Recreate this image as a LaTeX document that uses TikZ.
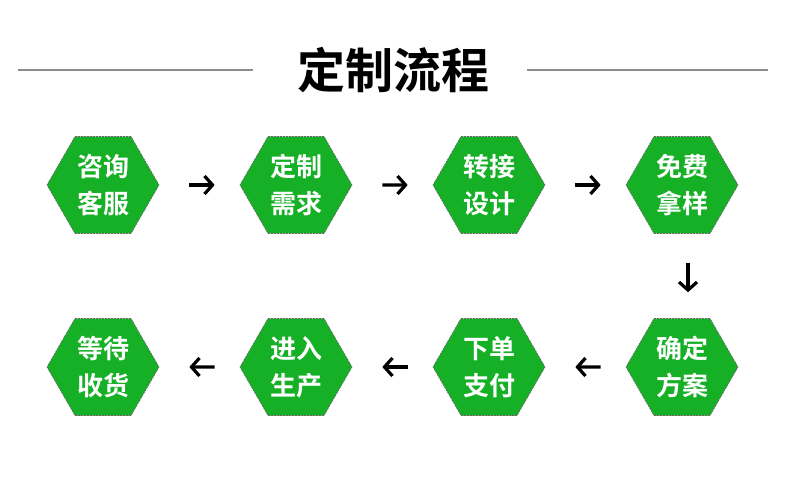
\documentclass[tikz,border=0pt]{standalone}
\usepackage{fontspec}
\newfontfamily\cjk{Noto Sans CJK SC}[BoldFont={Noto Sans CJK SC Bold}]
\usetikzlibrary{shapes.geometric,arrows.meta}
\definecolor{hexgreen}{RGB}{21,176,38}
\tikzset{
  hexa/.style={regular polygon,regular polygon sides=6,minimum size=112pt,inner sep=0pt,
    fill=hexgreen,draw=black!60,line width=0.6pt,dash pattern=on 2pt off 1pt,
    text=white,align=center,font=\cjk\bfseries\fontsize{26}{37}\selectfont},
  arr/.style={line width=3.2pt,-{Straight Barb[length=8pt,width=18pt]}},
  rarr/.style={arr,shorten <=30pt,shorten >=25pt},
  larr/.style={arr,shorten <=25pt,shorten >=30pt}
}
\begin{document}
\begin{tikzpicture}[x=1pt,y=-1pt]
\useasboundingbox[fill=white](0,0)rectangle(790,495);
\node[font=\cjk\bfseries\fontsize{48}{50}\selectfont](title) at (393,70){定制流程};
\draw[black!45,line width=1.5pt](18,70)--(253,70);
\draw[black!45,line width=1.5pt](527,70)--(768,70);
% first row
\node[hexa](zixun) at (103,185){咨询\\客服};
\node[hexa](xuqiu) at (296,185){定制\\需求};
\node[hexa](sheji) at (489,185){转接\\设计};
\node[hexa](nayang) at (682,185){免费\\拿样};
% second row
\node[hexa](fangan) at (682,367){确定\\方案};
\node[hexa](zhifu) at (489,367){下单\\支付};
\node[hexa](shengchan) at (296,367){进入\\生产};
\node[hexa](shouhuo) at (103,367){等待\\收货};
\draw[rarr](zixun.east)--(xuqiu.west);
\draw[rarr](xuqiu.east)--(sheji.west);
\draw[rarr](sheji.east)--(nayang.west);
\draw[arr,shorten <=29pt,shorten >=26pt]([xshift=6pt]nayang.south)--([xshift=6pt]fangan.north);
\draw[larr](fangan.west)--(zhifu.east);
\draw[larr](zhifu.west)--(shengchan.east);
\draw[larr](shengchan.west)--(shouhuo.east);
\end{tikzpicture}
\end{document}
